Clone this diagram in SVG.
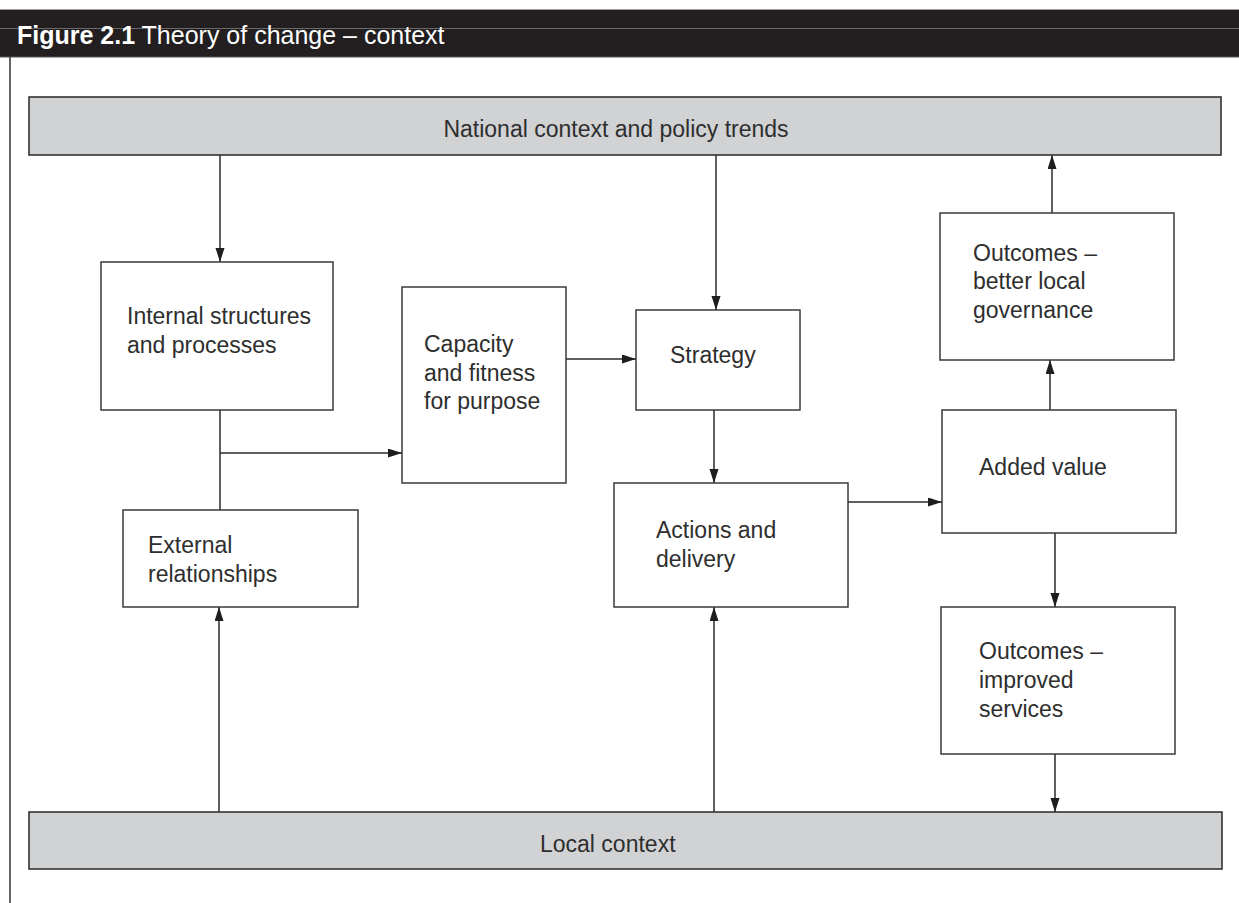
<svg xmlns="http://www.w3.org/2000/svg" width="1239" height="903" viewBox="0 0 1239 903">
  <style>
    .box { fill: #ffffff; stroke: #3a3a3a; stroke-width: 1.5; }
    .band { fill: #d1d2d4; stroke: #333333; stroke-width: 1.6; }
    .lbl { font-family: "Liberation Sans", Arial, sans-serif; font-size: 23px; fill: #2e2e2e; }
    .conn { fill: none; stroke: #2a2a2a; stroke-width: 1.5; }
    .title { font-family: "Liberation Sans", Arial, sans-serif; font-size: 25px; fill: #ffffff; }
  </style>
  <defs>
    <marker id="arrow" markerUnits="userSpaceOnUse" markerWidth="14" markerHeight="10" refX="14" refY="4.5" orient="auto">
      <path d="M0,0 L14,4.5 L0,9 z" fill="#1e1e1e"/>
    </marker>
  </defs>

  <rect x="0" y="0" width="1239" height="903" fill="#ffffff"/>

  <!-- figure header bar -->
  <g id="header">
    <line x1="0" y1="9.5" x2="1239" y2="9.5" stroke="#9a9a9a" stroke-width="1"/>
    <rect x="0" y="10" width="1239" height="47" fill="#231f20"/>
    <line x1="0" y1="28.5" x2="1239" y2="28.5" stroke="#6a6a6a" stroke-width="1"/>
    <line x1="0" y1="57" x2="1239" y2="57" stroke="#555555" stroke-width="1.2"/>
    <text class="title" x="17" y="44"><tspan font-weight="bold">Figure 2.1</tspan> Theory of change – context</text>
  </g>
  <line id="frame-left" x1="10" y1="57" x2="10" y2="903" stroke="#333333" stroke-width="1.5"/>

  <!-- connectors -->
  <g id="connectors">
    <line class="conn" x1="220" y1="155" x2="220" y2="262" marker-end="url(#arrow)"/>
    <line class="conn" x1="220" y1="410" x2="220" y2="510"/>
    <line class="conn" x1="220" y1="453" x2="402" y2="453" marker-end="url(#arrow)"/>
    <line class="conn" x1="219" y1="812" x2="219" y2="607" marker-end="url(#arrow)"/>
    <line class="conn" x1="566" y1="359" x2="636" y2="359" marker-end="url(#arrow)"/>
    <line class="conn" x1="716" y1="155" x2="716" y2="310" marker-end="url(#arrow)"/>
    <line class="conn" x1="714" y1="410" x2="714" y2="483" marker-end="url(#arrow)"/>
    <line class="conn" x1="714" y1="812" x2="714" y2="607" marker-end="url(#arrow)"/>
    <line class="conn" x1="848" y1="502" x2="942" y2="502" marker-end="url(#arrow)"/>
    <line class="conn" x1="1050" y1="410" x2="1050" y2="360" marker-end="url(#arrow)"/>
    <line class="conn" x1="1052" y1="213" x2="1052" y2="155" marker-end="url(#arrow)"/>
    <line class="conn" x1="1055" y1="533" x2="1055" y2="607" marker-end="url(#arrow)"/>
    <line class="conn" x1="1055" y1="754" x2="1055" y2="812" marker-end="url(#arrow)"/>
  </g>

  <!-- nodes -->
  <g id="national">
    <rect class="band" x="29" y="97" width="1192" height="58"/>
    <text class="lbl" x="616" y="137" text-anchor="middle" font-size="23.5">National context and policy trends</text>
  </g>

  <g id="local">
    <rect class="band" x="29" y="812" width="1193" height="57"/>
    <text class="lbl" x="540" y="852" font-size="23.5">Local context</text>
  </g>

  <g id="internal">
    <rect class="box" x="101" y="262" width="232" height="148"/>
    <text class="lbl" x="127" y="324">Internal structures</text>
    <text class="lbl" x="127" y="353">and processes</text>
  </g>

  <g id="external">
    <rect class="box" x="123" y="510" width="235" height="97"/>
    <text class="lbl" x="148" y="553">External</text>
    <text class="lbl" x="148" y="582">relationships</text>
  </g>

  <g id="capacity">
    <rect class="box" x="402" y="287" width="164" height="196"/>
    <text class="lbl" x="424" y="352">Capacity</text>
    <text class="lbl" x="424" y="381">and fitness</text>
    <text class="lbl" x="424" y="409">for purpose</text>
  </g>

  <g id="strategy">
    <rect class="box" x="636" y="310" width="164" height="100"/>
    <text class="lbl" x="670" y="363">Strategy</text>
  </g>

  <g id="actions">
    <rect class="box" x="614" y="483" width="234" height="124"/>
    <text class="lbl" x="656" y="538">Actions and</text>
    <text class="lbl" x="656" y="567">delivery</text>
  </g>

  <g id="outcomes-governance">
    <rect class="box" x="940" y="213" width="234" height="147"/>
    <text class="lbl" x="973" y="261">Outcomes –</text>
    <text class="lbl" x="973" y="289">better local</text>
    <text class="lbl" x="973" y="318">governance</text>
  </g>

  <g id="added-value">
    <rect class="box" x="942" y="410" width="234" height="123"/>
    <text class="lbl" x="979" y="475">Added value</text>
  </g>

  <g id="outcomes-services">
    <rect class="box" x="941" y="607" width="234" height="147"/>
    <text class="lbl" x="979" y="659">Outcomes –</text>
    <text class="lbl" x="979" y="688">improved</text>
    <text class="lbl" x="979" y="717">services</text>
  </g>
</svg>
